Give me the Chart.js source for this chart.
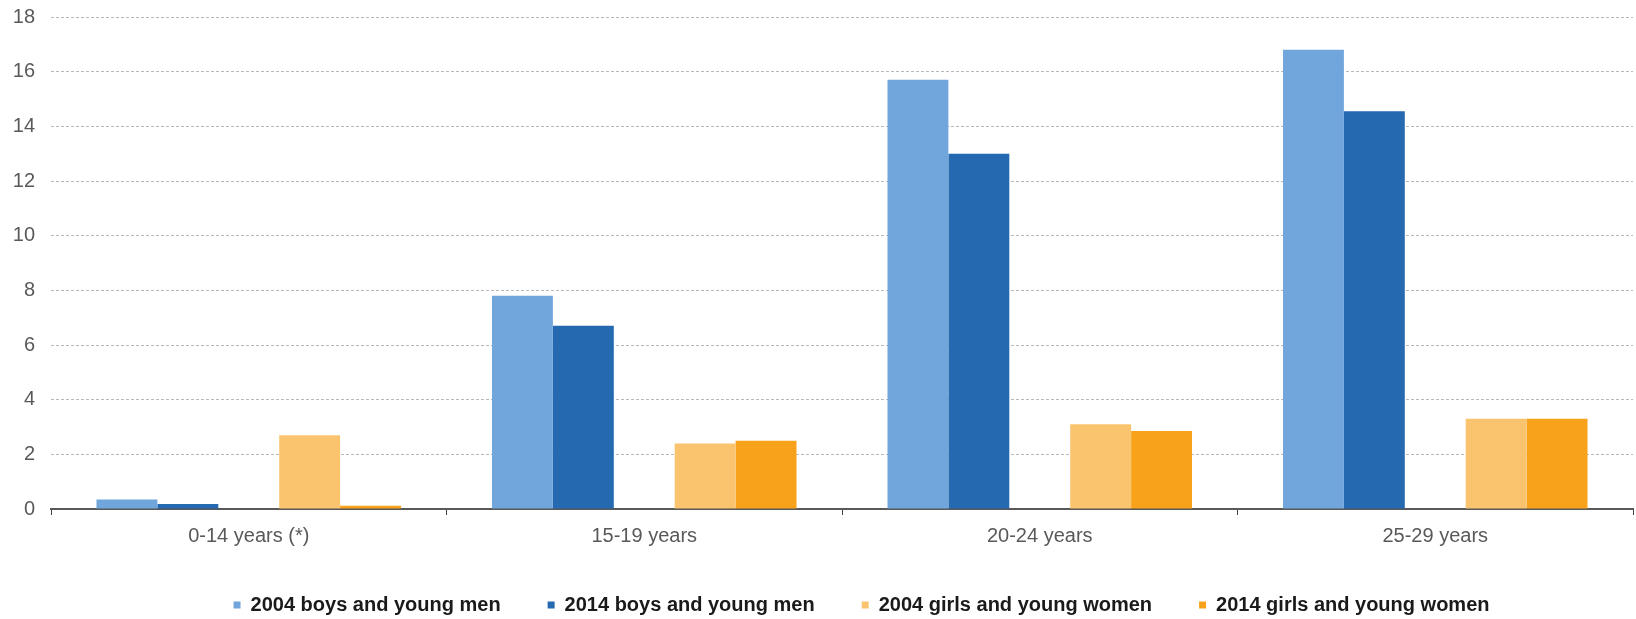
<!DOCTYPE html>
<html>
<head>
<meta charset="utf-8">
<script src="https://cdn.jsdelivr.net/npm/chart.js@4.4.1/dist/chart.umd.min.js"></script>
<style>
  html, body { margin: 0; padding: 0; background: #ffffff; }
  #wrap { width: 1636px; height: 619px; position: relative; }
</style>
</head>
<body>
<div id="wrap"><canvas id="chart"></canvas></div>
<script>
// Age groups on the category axis
const ageGroups = ['0-14 years (*)', '15-19 years', '20-24 years', '25-29 years'];

// Series values (per age group)
const boys2004  = [0.35, 7.8, 15.7, 16.8];
const boys2014  = [0.18, 6.7, 13.0, 14.55];
const girls2004 = [2.7, 2.4, 3.1, 3.3];
const girls2014 = [0.12, 2.5, 2.85, 3.3];

// Series names shown in the legend
const seriesNames = [
  '2004 boys and young men',
  '2014 boys and young men',
  '2004 girls and young women',
  '2014 girls and young women'
];

// Value axis ticks
const yTicks = [0, 2, 4, 6, 8, 10, 12, 14, 16, 18];

const FONT = "'Liberation Sans', Arial, sans-serif";

const datasets = [
  { label: seriesNames[0], data: boys2004,  backgroundColor: '#71a6dd' },
  { label: seriesNames[1], data: boys2014,  backgroundColor: '#2569b1' },
  // empty slot separating the two groups of bars
  { label: '', data: ageGroups.map(() => null), backgroundColor: 'rgba(0,0,0,0)', spacer: true },
  { label: seriesNames[2], data: girls2004, backgroundColor: '#fac46f' },
  { label: seriesNames[3], data: girls2014, backgroundColor: '#f7a21a' }
];

// Gives the bottom legend a fixed height (its label padding is wide for
// horizontal spacing) and nudges it after layout
const legendTweak = {
  id: 'legendTweak',
  beforeLayout(chart, args, opts) {
    const lg = chart.legend;
    if (!lg || lg._fixedFit) return;
    const baseFit = lg.fit;
    lg.fit = function () {
      baseFit.call(this);
      this.height = opts.height;
    };
    lg._fixedFit = true;
  },
  afterLayout(chart, args, opts) {
    const lg = chart.legend;
    if (!lg) return;
    lg.left += opts.dx;
    lg.right += opts.dx;
    lg.top += opts.dy;
  }
};

new Chart(document.getElementById('chart'), {
  type: 'bar',
  data: { labels: ageGroups, datasets: datasets },
  options: {
    responsive: true,
    maintainAspectRatio: false,
    animation: false,
    layout: { padding: { top: 17, right: 3, left: 0, bottom: 0 } },
    datasets: { bar: { categoryPercentage: 0.77, barPercentage: 1.0, borderWidth: 0 } },
    plugins: {
      tooltip: { enabled: false },
      legendTweak: { dx: 45, dy: -9, height: 62 },
      legend: {
        position: 'bottom',
        labels: {
          filter: (item, data) => !data.datasets[item.datasetIndex].spacer,
          boxWidth: 7,
          boxHeight: 7,
          padding: 47,
          color: '#1a1a1a',
          font: { family: FONT, size: 20, weight: 'bold' }
        }
      }
    },
    scales: {
      x: {
        offset: true,
        grid: {
          offset: true,
          drawOnChartArea: false,
          drawTicks: true,
          tickLength: 6,
          color: '#404040',
          lineWidth: 1
        },
        border: { display: true, color: '#595959', width: 2 },
        ticks: {
          color: '#595959',
          padding: 9,
          font: { family: FONT, size: 20 }
        }
      },
      y: {
        min: 0,
        max: 18,
        afterBuildTicks: (scale) => { scale.ticks = yTicks.map(v => ({ value: v })); },
        afterFit: (scale) => { scale.width = 51; scale.paddingTop = 0; scale.paddingBottom = 0; },
        border: { display: false, dash: [3, 2] },
        grid: {
          drawTicks: false,
          color: (ctx) => ctx.tick && ctx.tick.value === 0 ? 'rgba(0,0,0,0)' : '#b8b8b8',
          lineWidth: 1
        },
        ticks: {
          padding: 16,
          color: '#595959',
          font: { family: FONT, size: 20 }
        }
      }
    }
  },
  plugins: [legendTweak]
});
</script>
</body>
</html>
